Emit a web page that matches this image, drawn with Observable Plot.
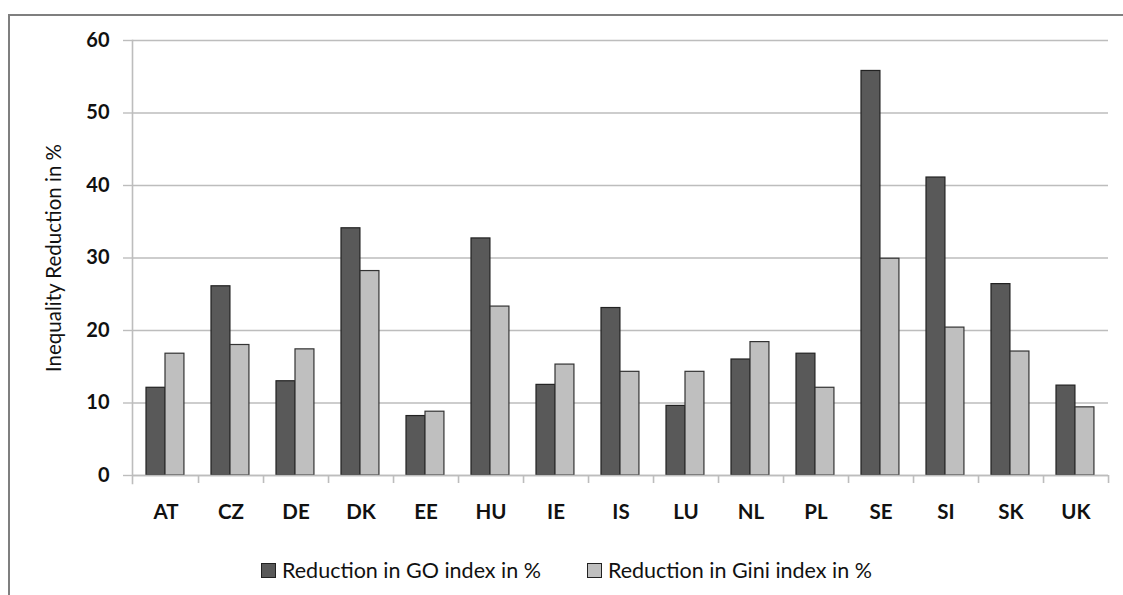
<!DOCTYPE html>
<html>
<head>
<meta charset="utf-8">
<script src="https://cdn.jsdelivr.net/npm/d3@7"></script>
<script src="https://cdn.jsdelivr.net/npm/@observablehq/plot@0.6"></script>
<style>
  html, body { margin: 0; padding: 0; background: #fff; }
  #wrap { position: relative; width: 1123px; height: 595px; overflow: hidden; font-family: Lato, "Open Sans", sans-serif; }
  #frame { position: absolute; left: 8px; top: 14px; right: -10px; bottom: -10px; border-top: 2px solid #7f7f7f; border-left: 2px solid #7f7f7f; box-sizing: border-box; pointer-events: none; }
  #chart { position: absolute; left: 0; top: 0; }
  #legend { position: absolute; left: 261px; top: 557px; display: flex; align-items: center; font-size: 21.5px; color: #111; white-space: nowrap; }
  .item { display: flex; align-items: center; margin-right: 46px; }
  .sw { width: 13px; height: 13px; border: 1px solid #222; margin-right: 6px; }
</style>
</head>
<body>
<div id="wrap">
  <div id="frame"></div>
  <div id="chart"></div>
  <div id="legend"></div>
</div>
<script>
const countries = ["AT","CZ","DE","DK","EE","HU","IE","IS","LU","NL","PL","SE","SI","SK","UK"];
const goReduction = [12.1, 26.1, 13.0, 34.1, 8.2, 32.7, 12.5, 23.1, 9.6, 16.0, 16.8, 55.8, 41.1, 26.4, 12.4];
const giniReduction = [16.8, 18.0, 17.4, 28.2, 8.8, 23.3, 15.3, 14.3, 14.3, 18.4, 12.1, 29.9, 20.4, 17.1, 9.4];
const seriesNames = ["Reduction in GO index in %", "Reduction in Gini index in %"];
const seriesColors = ["#595959", "#bfbfbf"];
const yTicks = [0, 10, 20, 30, 40, 50, 60];
const yLabel = "Inequality Reduction in %";

const data = countries.map((c, i) => ({country: c, go: goReduction[i], gini: giniReduction[i]}));

const W = 1123, H = 530, mL = 132, mR = 15, mT = 40, mB = 55;
const bw = (W - mL - mR) / countries.length;
const gridColor = "#bdbdbd";

const chart = Plot.plot({
  width: W, height: H,
  marginLeft: mL, marginRight: mR, marginTop: mT, marginBottom: mB,
  style: {fontFamily: "Lato, 'Open Sans', sans-serif", color: "#111", background: "transparent"},
  x: {type: "band", domain: countries, padding: 0, axis: null},
  y: {domain: [0, 60], axis: null},
  marks: [
    Plot.gridY(yTicks, {stroke: gridColor, strokeOpacity: 1, strokeWidth: 1.4}),
    Plot.barY(data, {x: "country", y: "go", fill: seriesColors[0], stroke: "#222", strokeWidth: 1.2, insetLeft: 13, insetRight: bw - 32}),
    Plot.barY(data, {x: "country", y: "gini", fill: seriesColors[1], stroke: "#333", strokeWidth: 1.2, insetLeft: 32, insetRight: bw - 51}),
    Plot.ruleY([0], {stroke: gridColor, strokeWidth: 1.6}),
    Plot.frame({anchor: "left", stroke: gridColor, strokeWidth: 1.6, insetBottom: -8}),
    Plot.axisY(yTicks, {tickSize: 9, stroke: gridColor, strokeWidth: 1.4, tickPadding: 14, fontSize: 20, fontWeight: "bold", label: null}),
    Plot.axisX({tickSize: 8, text: null, dx: bw / 2, stroke: gridColor, strokeWidth: 1.6, label: null}),
    Plot.axisX({tickSize: 0, tickPadding: 29, fontSize: 20.5, fontWeight: "bold", label: null}),
    Plot.text([yLabel], {frameAnchor: "left", textAnchor: "middle", dx: -(mL - 54), rotate: -90, fontSize: 20.5, fill: "#111"})
  ]
});
document.getElementById("chart").appendChild(chart);

const legend = document.getElementById("legend");
seriesNames.forEach((name, i) => {
  const item = document.createElement("div");
  item.className = "item";
  const sw = document.createElement("div");
  sw.className = "sw";
  sw.style.background = seriesColors[i];
  item.appendChild(sw);
  const t = document.createElement("span");
  t.textContent = name;
  item.appendChild(t);
  legend.appendChild(item);
});
</script>
</body>
</html>
